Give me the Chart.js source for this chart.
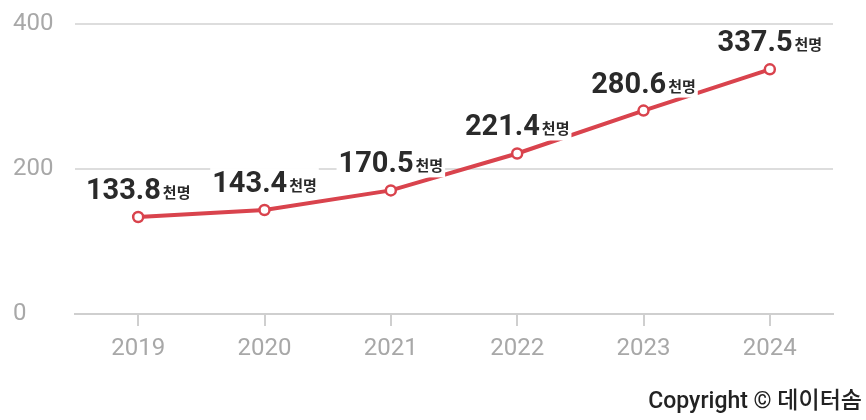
<!DOCTYPE html>
<html>
<head>
<meta charset="utf-8">
<script src="https://cdn.jsdelivr.net/npm/chart.js@4"></script>
<style>
  html, body { margin: 0; padding: 0; background: #fff; }
  .wrap { position: relative; width: 866px; height: 420px; }
  .copy {
    position: absolute; right: 4px; top: 381px;
    font: 500 23px Roboto, "Noto Sans CJK KR", sans-serif; color: #222;
  }
</style>
</head>
<body>
<div class="wrap">
  <canvas id="c" width="866" height="420"></canvas>
  <div class="copy">Copyright © 데이터솜</div>
</div>
<script>
const years = ['2019', '2020', '2021', '2022', '2023', '2024'];
const values = [133.8, 143.4, 170.5, 221.4, 280.6, 337.5];
const unit = '천명';
const yTicks = [0, 200, 400];

const red = '#d9434d';

// number + unit above each point, white box so the line goes under it
const valueLabels = {
  id: 'valueLabels',
  afterDatasetsDraw(chart) {
    const ctx = chart.ctx;
    const meta = chart.getDatasetMeta(0);
    ctx.save();
    meta.data.forEach((pt, i) => {
      const num = values[i].toFixed(1);
      ctx.font = 'bold 29px Roboto, "Noto Sans CJK KR", sans-serif';
      const w1 = ctx.measureText(num).width;
      ctx.font = 'bold 15px "Noto Sans CJK KR", sans-serif';
      const w2 = ctx.measureText(unit).width;
      const total = w1 + 2 + w2;
      const x0 = pt.x - total / 2;
      const base = pt.y - 18;
      ctx.fillStyle = '#fff';
      ctx.fillRect(x0 - 2, base - 24, total + 4, 29);
      ctx.fillStyle = '#2a2a2a';
      ctx.textBaseline = 'alphabetic';
      ctx.textAlign = 'left';
      ctx.font = 'bold 29px Roboto, "Noto Sans CJK KR", sans-serif';
      ctx.fillText(num, x0, base);
      ctx.font = 'bold 15px "Noto Sans CJK KR", sans-serif';
      ctx.fillText(unit, x0 + w1 + 2, base - 1);
    });
    ctx.restore();
  }
};

new Chart(document.getElementById('c'), {
  type: 'line',
  data: {
    labels: years,
    datasets: [{
      data: values,
      borderColor: red,
      borderWidth: 4,
      pointRadius: 5,
      pointBorderWidth: 2.5,
      pointBackgroundColor: '#fff',
      pointBorderColor: red,
      tension: 0
    }]
  },
  options: {
    responsive: false,
    animation: false,
    layout: { padding: { left: 13, right: 33, top: 24, bottom: 60 } },
    plugins: { legend: { display: false }, tooltip: { enabled: false } },
    scales: {
      x: {
        offset: true,
        afterFit: s => { s.height = 46; },
        grid: { offset: false, drawOnChartArea: false, tickLength: 12, color: '#cfcfcf', lineWidth: 2 },
        border: { color: '#cfcfcf', width: 2 },
        ticks: { color: '#a8a8a8', padding: 9, font: { family: 'Roboto', size: 24 } }
      },
      y: {
        min: 0, max: 400,
        afterFit: s => { s.width = 62; },
        afterBuildTicks: s => { s.ticks = yTicks.map(v => ({ value: v })); },
        grid: { color: '#dddddd', lineWidth: 2, drawTicks: false },
        border: { display: false },
        ticks: { color: '#a8a8a8', crossAlign: 'far', padding: 8, font: { family: 'Roboto', size: 24 } }
      }
    }
  },
  plugins: [valueLabels]
});
</script>
</body>
</html>
